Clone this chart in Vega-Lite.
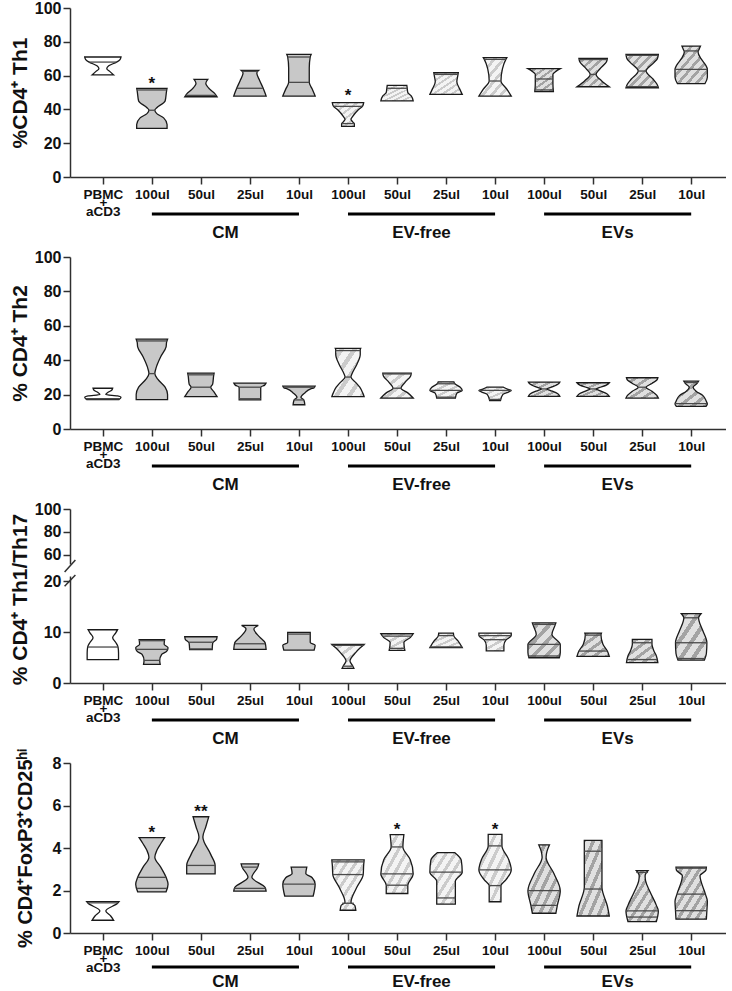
{
"$schema": "https://vega.github.io/schema/vega-lite/v6.json",
"padding": {"left": 8, "top": 0, "right": 0, "bottom": 0},
"config": {
 "font": "Liberation Sans",
 "view": {"stroke": null},
 "axis": {"grid": false, "domainColor": "#303030", "domainWidth": 1.5, "tickColor": "#303030", "tickWidth": 1.5, "tickSize": 7, "labelFont": "Liberation Sans", "labelFontWeight": "bold", "labelColor": "#111111", "titleFont": "Liberation Sans", "titleFontWeight": "bold", "titleColor": "#111111", "titleFontSize": 21, "labelOverlap": false},
 "axisY": {"labelFontSize": 16, "labelPadding": 2, "labelOverlap": false, "labelBound": false, "labelFlush": false},
 "axisX": {"labelFontSize": 13.5, "labelPadding": 3}
},
"datasets": {
 "s": [
  {"p":1,"c":1,"v":71,"w":0.37},{"p":1,"c":1,"v":69.5,"w":0.35},{"p":1,"c":1,"v":68,"w":0.28},{"p":1,"c":1,"v":65.8,"w":0.12},{"p":1,"c":1,"v":64,"w":0.08},{"p":1,"c":1,"v":62.5,"w":0.14},{"p":1,"c":1,"v":60.4,"w":0.22},
  {"p":1,"c":2,"v":52.5,"w":0.31},{"p":1,"c":2,"v":51,"w":0.30},{"p":1,"c":2,"v":45,"w":0.27},{"p":1,"c":2,"v":41,"w":0.10},{"p":1,"c":2,"v":39.5,"w":0.06},{"p":1,"c":2,"v":37.5,"w":0.10},{"p":1,"c":2,"v":35,"w":0.24},{"p":1,"c":2,"v":31,"w":0.31},{"p":1,"c":2,"v":28.8,"w":0.31},
  {"p":1,"c":3,"v":57.8,"w":0.14},{"p":1,"c":3,"v":55.5,"w":0.10},{"p":1,"c":3,"v":52,"w":0.18},{"p":1,"c":3,"v":49.5,"w":0.28},{"p":1,"c":3,"v":47.5,"w":0.33},
  {"p":1,"c":4,"v":63.1,"w":0.18},{"p":1,"c":4,"v":61.5,"w":0.14},{"p":1,"c":4,"v":57,"w":0.20},{"p":1,"c":4,"v":52.5,"w":0.27},{"p":1,"c":4,"v":49.5,"w":0.31},{"p":1,"c":4,"v":47.9,"w":0.33},
  {"p":1,"c":5,"v":72.6,"w":0.25},{"p":1,"c":5,"v":71,"w":0.23},{"p":1,"c":5,"v":64.5,"w":0.21},{"p":1,"c":5,"v":56,"w":0.21},{"p":1,"c":5,"v":52,"w":0.27},{"p":1,"c":5,"v":47.9,"w":0.33},
  {"p":1,"c":6,"v":44,"w":0.32},{"p":1,"c":6,"v":42,"w":0.30},{"p":1,"c":6,"v":39.5,"w":0.20},{"p":1,"c":6,"v":36,"w":0.10},{"p":1,"c":6,"v":34.1,"w":0.06},{"p":1,"c":6,"v":32.5,"w":0.10},{"p":1,"c":6,"v":31.5,"w":0.13},{"p":1,"c":6,"v":30,"w":0.13},
  {"p":1,"c":7,"v":54.2,"w":0.20},{"p":1,"c":7,"v":52,"w":0.21},{"p":1,"c":7,"v":50,"w":0.22},{"p":1,"c":7,"v":48,"w":0.29},{"p":1,"c":7,"v":45,"w":0.33},
  {"p":1,"c":8,"v":61.7,"w":0.25},{"p":1,"c":8,"v":60,"w":0.24},{"p":1,"c":8,"v":56.4,"w":0.22},{"p":1,"c":8,"v":52,"w":0.28},{"p":1,"c":8,"v":48.9,"w":0.33},
  {"p":1,"c":9,"v":70.6,"w":0.24},{"p":1,"c":9,"v":69.6,"w":0.22},{"p":1,"c":9,"v":64,"w":0.15},{"p":1,"c":9,"v":56.8,"w":0.12},{"p":1,"c":9,"v":52,"w":0.24},{"p":1,"c":9,"v":47.9,"w":0.33},
  {"p":1,"c":10,"v":64.1,"w":0.33},{"p":1,"c":10,"v":62.5,"w":0.24},{"p":1,"c":10,"v":60.8,"w":0.18},{"p":1,"c":10,"v":55,"w":0.18},{"p":1,"c":10,"v":50.5,"w":0.19},
  {"p":1,"c":11,"v":70.2,"w":0.29},{"p":1,"c":11,"v":68,"w":0.27},{"p":1,"c":11,"v":64,"w":0.14},{"p":1,"c":11,"v":60.7,"w":0.06},{"p":1,"c":11,"v":57,"w":0.17},{"p":1,"c":11,"v":53.4,"w":0.33},
  {"p":1,"c":12,"v":72.6,"w":0.33},{"p":1,"c":12,"v":70,"w":0.31},{"p":1,"c":12,"v":67.7,"w":0.24},{"p":1,"c":12,"v":62.7,"w":0.08},{"p":1,"c":12,"v":58,"w":0.22},{"p":1,"c":12,"v":55,"w":0.30},{"p":1,"c":12,"v":52.8,"w":0.33},
  {"p":1,"c":13,"v":77.5,"w":0.19},{"p":1,"c":13,"v":75.5,"w":0.16},{"p":1,"c":13,"v":74,"w":0.14},{"p":1,"c":13,"v":70,"w":0.20},{"p":1,"c":13,"v":66,"w":0.30},{"p":1,"c":13,"v":63.7,"w":0.33},{"p":1,"c":13,"v":59,"w":0.33},{"p":1,"c":13,"v":55.2,"w":0.28},

  {"p":2,"c":1,"v":23.7,"w":0.20},{"p":2,"c":1,"v":22.5,"w":0.18},{"p":2,"c":1,"v":21.2,"w":0.10},{"p":2,"c":1,"v":20,"w":0.06},{"p":2,"c":1,"v":19.2,"w":0.30},{"p":2,"c":1,"v":18.4,"w":0.37},{"p":2,"c":1,"v":17.1,"w":0.33},
  {"p":2,"c":2,"v":52.2,"w":0.32},{"p":2,"c":2,"v":50.5,"w":0.30},{"p":2,"c":2,"v":47.8,"w":0.29},{"p":2,"c":2,"v":42,"w":0.18},{"p":2,"c":2,"v":35,"w":0.08},{"p":2,"c":2,"v":32.2,"w":0.06},{"p":2,"c":2,"v":29,"w":0.12},{"p":2,"c":2,"v":24.3,"w":0.27},{"p":2,"c":2,"v":20,"w":0.32},{"p":2,"c":2,"v":17.1,"w":0.32},
  {"p":2,"c":3,"v":32.5,"w":0.27},{"p":2,"c":3,"v":31,"w":0.26},{"p":2,"c":3,"v":26.1,"w":0.24},{"p":2,"c":3,"v":24.3,"w":0.20},{"p":2,"c":3,"v":21.5,"w":0.27},{"p":2,"c":3,"v":18.8,"w":0.33},
  {"p":2,"c":4,"v":26.7,"w":0.33},{"p":2,"c":4,"v":25.5,"w":0.30},{"p":2,"c":4,"v":24.3,"w":0.22},{"p":2,"c":4,"v":20,"w":0.22},{"p":2,"c":4,"v":16.9,"w":0.22},
  {"p":2,"c":5,"v":24.9,"w":0.33},{"p":2,"c":5,"v":24,"w":0.31},{"p":2,"c":5,"v":23.3,"w":0.24},{"p":2,"c":5,"v":21,"w":0.12},{"p":2,"c":5,"v":18.4,"w":0.04},{"p":2,"c":5,"v":16.9,"w":0.10},{"p":2,"c":5,"v":14.1,"w":0.12},
  {"p":2,"c":6,"v":46.9,"w":0.26},{"p":2,"c":6,"v":46,"w":0.25},{"p":2,"c":6,"v":43.3,"w":0.25},{"p":2,"c":6,"v":37.5,"w":0.18},{"p":2,"c":6,"v":32,"w":0.08},{"p":2,"c":6,"v":30.2,"w":0.06},{"p":2,"c":6,"v":27,"w":0.16},{"p":2,"c":6,"v":24.3,"w":0.24},{"p":2,"c":6,"v":21,"w":0.30},{"p":2,"c":6,"v":18.8,"w":0.33},
  {"p":2,"c":7,"v":32.5,"w":0.29},{"p":2,"c":7,"v":31,"w":0.28},{"p":2,"c":7,"v":27,"w":0.16},{"p":2,"c":7,"v":23.7,"w":0.08},{"p":2,"c":7,"v":21,"w":0.22},{"p":2,"c":7,"v":18,"w":0.33},
  {"p":2,"c":8,"v":27.4,"w":0.16},{"p":2,"c":8,"v":26.3,"w":0.18},{"p":2,"c":8,"v":24.3,"w":0.29},{"p":2,"c":8,"v":22.4,"w":0.33},{"p":2,"c":8,"v":20.8,"w":0.22},{"p":2,"c":8,"v":18,"w":0.19},
  {"p":2,"c":9,"v":24.3,"w":0.17},{"p":2,"c":9,"v":23.2,"w":0.25},{"p":2,"c":9,"v":22.4,"w":0.33},{"p":2,"c":9,"v":21.6,"w":0.28},{"p":2,"c":9,"v":20.1,"w":0.16},{"p":2,"c":9,"v":16.5,"w":0.11},
  {"p":2,"c":10,"v":27.3,"w":0.32},{"p":2,"c":10,"v":26,"w":0.28},{"p":2,"c":10,"v":24,"w":0.12},{"p":2,"c":10,"v":23.3,"w":0.05},{"p":2,"c":10,"v":22.5,"w":0.12},{"p":2,"c":10,"v":20.5,"w":0.28},{"p":2,"c":10,"v":19,"w":0.32},
  {"p":2,"c":11,"v":26.9,"w":0.33},{"p":2,"c":11,"v":25.5,"w":0.27},{"p":2,"c":11,"v":24,"w":0.12},{"p":2,"c":11,"v":23.3,"w":0.06},{"p":2,"c":11,"v":22.5,"w":0.12},{"p":2,"c":11,"v":20.5,"w":0.28},{"p":2,"c":11,"v":19,"w":0.33},
  {"p":2,"c":12,"v":29.8,"w":0.32},{"p":2,"c":12,"v":28.5,"w":0.30},{"p":2,"c":12,"v":26.5,"w":0.20},{"p":2,"c":12,"v":24.3,"w":0.08},{"p":2,"c":12,"v":22,"w":0.20},{"p":2,"c":12,"v":19.5,"w":0.30},{"p":2,"c":12,"v":18,"w":0.33},
  {"p":2,"c":13,"v":27.8,"w":0.15},{"p":2,"c":13,"v":26.5,"w":0.12},{"p":2,"c":13,"v":24.3,"w":0.04},{"p":2,"c":13,"v":22,"w":0.10},{"p":2,"c":13,"v":19.4,"w":0.24},{"p":2,"c":13,"v":16,"w":0.31},{"p":2,"c":13,"v":14.5,"w":0.33},{"p":2,"c":13,"v":13.1,"w":0.30},

  {"p":3,"c":1,"v":10.45,"w":0.30},{"p":3,"c":1,"v":9.8,"w":0.26},{"p":3,"c":1,"v":8.9,"w":0.20},{"p":3,"c":1,"v":8.0,"w":0.26},{"p":3,"c":1,"v":7.06,"w":0.31},{"p":3,"c":1,"v":5.9,"w":0.32},{"p":3,"c":1,"v":4.57,"w":0.32},
  {"p":3,"c":2,"v":8.5,"w":0.26},{"p":3,"c":2,"v":7.6,"w":0.25},{"p":3,"c":2,"v":6.93,"w":0.33},{"p":3,"c":2,"v":6.2,"w":0.30},{"p":3,"c":2,"v":5.6,"w":0.20},{"p":3,"c":2,"v":4.44,"w":0.16},{"p":3,"c":2,"v":3.66,"w":0.17},
  {"p":3,"c":3,"v":9.08,"w":0.33},{"p":3,"c":3,"v":8.6,"w":0.32},{"p":3,"c":3,"v":7.8,"w":0.24},{"p":3,"c":3,"v":6.54,"w":0.23},
  {"p":3,"c":4,"v":11.3,"w":0.17},{"p":3,"c":4,"v":10.6,"w":0.08},{"p":3,"c":4,"v":9.0,"w":0.20},{"p":3,"c":4,"v":7.9,"w":0.31},{"p":3,"c":4,"v":6.6,"w":0.33},
  {"p":3,"c":5,"v":9.93,"w":0.23},{"p":3,"c":5,"v":9.6,"w":0.23},{"p":3,"c":5,"v":7.97,"w":0.23},{"p":3,"c":5,"v":7.4,"w":0.33},{"p":3,"c":5,"v":6.47,"w":0.31},
  {"p":3,"c":6,"v":7.58,"w":0.33},{"p":3,"c":6,"v":6.9,"w":0.25},{"p":3,"c":6,"v":6.0,"w":0.16},{"p":3,"c":6,"v":4.3,"w":0.04},{"p":3,"c":6,"v":3.3,"w":0.10},{"p":3,"c":6,"v":2.88,"w":0.12},
  {"p":3,"c":7,"v":9.67,"w":0.33},{"p":3,"c":7,"v":8.9,"w":0.27},{"p":3,"c":7,"v":7.97,"w":0.14},{"p":3,"c":7,"v":6.4,"w":0.16},
  {"p":3,"c":8,"v":9.8,"w":0.15},{"p":3,"c":8,"v":9.2,"w":0.16},{"p":3,"c":8,"v":8.3,"w":0.24},{"p":3,"c":8,"v":6.93,"w":0.33},
  {"p":3,"c":9,"v":9.8,"w":0.33},{"p":3,"c":9,"v":9.3,"w":0.33},{"p":3,"c":9,"v":8.4,"w":0.22},{"p":3,"c":9,"v":7.4,"w":0.18},{"p":3,"c":9,"v":6.3,"w":0.18},
  {"p":3,"c":10,"v":11.8,"w":0.24},{"p":3,"c":10,"v":11.5,"w":0.23},{"p":3,"c":10,"v":9.54,"w":0.16},{"p":3,"c":10,"v":7.58,"w":0.33},{"p":3,"c":10,"v":6,"w":0.33},{"p":3,"c":10,"v":4.96,"w":0.31},
  {"p":3,"c":11,"v":9.8,"w":0.17},{"p":3,"c":11,"v":9.4,"w":0.16},{"p":3,"c":11,"v":7.6,"w":0.20},{"p":3,"c":11,"v":6.27,"w":0.29},{"p":3,"c":11,"v":5.22,"w":0.33},
  {"p":3,"c":12,"v":8.56,"w":0.20},{"p":3,"c":12,"v":7.6,"w":0.20},{"p":3,"c":12,"v":6.3,"w":0.24},{"p":3,"c":12,"v":5.3,"w":0.29},{"p":3,"c":12,"v":3.99,"w":0.32},
  {"p":3,"c":13,"v":13.6,"w":0.20},{"p":3,"c":13,"v":12.8,"w":0.15},{"p":3,"c":13,"v":12.2,"w":0.16},{"p":3,"c":13,"v":10.2,"w":0.24},{"p":3,"c":13,"v":7.9,"w":0.32},{"p":3,"c":13,"v":5.8,"w":0.31},{"p":3,"c":13,"v":4.5,"w":0.27},

  {"p":4,"c":1,"v":1.48,"w":0.33},{"p":4,"c":1,"v":1.4,"w":0.30},{"p":4,"c":1,"v":1.04,"w":0.06},{"p":4,"c":1,"v":0.8,"w":0.16},{"p":4,"c":1,"v":0.6,"w":0.22},
  {"p":4,"c":2,"v":4.49,"w":0.26},{"p":4,"c":2,"v":4.2,"w":0.18},{"p":4,"c":2,"v":3.88,"w":0.10},{"p":4,"c":2,"v":3.57,"w":0.06},{"p":4,"c":2,"v":3.1,"w":0.18},{"p":4,"c":2,"v":2.62,"w":0.29},{"p":4,"c":2,"v":2.3,"w":0.33},{"p":4,"c":2,"v":1.94,"w":0.29},
  {"p":4,"c":3,"v":5.47,"w":0.16},{"p":4,"c":3,"v":5.0,"w":0.10},{"p":4,"c":3,"v":4.52,"w":0.04},{"p":4,"c":3,"v":3.7,"w":0.20},{"p":4,"c":3,"v":3.18,"w":0.29},{"p":4,"c":3,"v":2.78,"w":0.29},
  {"p":4,"c":4,"v":3.25,"w":0.18},{"p":4,"c":4,"v":3.1,"w":0.16},{"p":4,"c":4,"v":2.62,"w":0.04},{"p":4,"c":4,"v":2.14,"w":0.31},{"p":4,"c":4,"v":1.97,"w":0.33},
  {"p":4,"c":5,"v":3.1,"w":0.16},{"p":4,"c":5,"v":2.8,"w":0.14},{"p":4,"c":5,"v":2.6,"w":0.27},{"p":4,"c":5,"v":2.3,"w":0.33},{"p":4,"c":5,"v":1.74,"w":0.29},
  {"p":4,"c":6,"v":3.44,"w":0.33},{"p":4,"c":6,"v":3.2,"w":0.32},{"p":4,"c":6,"v":2.75,"w":0.31},{"p":4,"c":6,"v":2.15,"w":0.18},{"p":4,"c":6,"v":1.44,"w":0.06},{"p":4,"c":6,"v":1.3,"w":0.14},{"p":4,"c":6,"v":1.07,"w":0.16},
  {"p":4,"c":7,"v":4.63,"w":0.14},{"p":4,"c":7,"v":4.05,"w":0.12},{"p":4,"c":7,"v":3.45,"w":0.27},{"p":4,"c":7,"v":2.78,"w":0.33},{"p":4,"c":7,"v":2.25,"w":0.22},{"p":4,"c":7,"v":1.86,"w":0.22},
  {"p":4,"c":8,"v":3.78,"w":0.18},{"p":4,"c":8,"v":3.43,"w":0.31},{"p":4,"c":8,"v":2.86,"w":0.33},{"p":4,"c":8,"v":2.44,"w":0.19},{"p":4,"c":8,"v":1.36,"w":0.19},
  {"p":4,"c":9,"v":4.64,"w":0.14},{"p":4,"c":9,"v":4.1,"w":0.14},{"p":4,"c":9,"v":3.5,"w":0.27},{"p":4,"c":9,"v":2.97,"w":0.33},{"p":4,"c":9,"v":2.5,"w":0.22},{"p":4,"c":9,"v":2.23,"w":0.12},{"p":4,"c":9,"v":1.47,"w":0.12},
  {"p":4,"c":10,"v":4.15,"w":0.11},{"p":4,"c":10,"v":3.85,"w":0.06},{"p":4,"c":10,"v":3.57,"w":0.04},{"p":4,"c":10,"v":2.8,"w":0.20},{"p":4,"c":10,"v":1.99,"w":0.33},{"p":4,"c":10,"v":1.3,"w":0.27},{"p":4,"c":10,"v":0.93,"w":0.24},
  {"p":4,"c":11,"v":4.36,"w":0.18},{"p":4,"c":11,"v":3.85,"w":0.18},{"p":4,"c":11,"v":2.15,"w":0.18},{"p":4,"c":11,"v":1.27,"w":0.29},{"p":4,"c":11,"v":0.8,"w":0.33},
  {"p":4,"c":12,"v":2.94,"w":0.12},{"p":4,"c":12,"v":2.7,"w":0.06},{"p":4,"c":12,"v":2.45,"w":0.07},{"p":4,"c":12,"v":1.94,"w":0.16},{"p":4,"c":12,"v":1.3,"w":0.29},{"p":4,"c":12,"v":1.04,"w":0.33},{"p":4,"c":12,"v":0.54,"w":0.29},
  {"p":4,"c":13,"v":3.1,"w":0.31},{"p":4,"c":13,"v":2.95,"w":0.30},{"p":4,"c":13,"v":2.7,"w":0.18},{"p":4,"c":13,"v":1.83,"w":0.29},{"p":4,"c":13,"v":1.5,"w":0.33},{"p":4,"c":13,"v":1.05,"w":0.32},{"p":4,"c":13,"v":0.65,"w":0.31}
 ],
 "l": [
  {"p":1,"c":1,"v":68,"w":0.28},{"p":1,"c":2,"v":51.5,"w":0.30},{"p":1,"c":2,"v":39.5,"w":0.06},{"p":1,"c":3,"v":48.3,"w":0.31},{"p":1,"c":4,"v":62.5,"w":0.16},{"p":1,"c":4,"v":52.5,"w":0.27},{"p":1,"c":5,"v":71,"w":0.23},{"p":1,"c":5,"v":56,"w":0.21},{"p":1,"c":6,"v":41.8,"w":0.29},{"p":1,"c":6,"v":31.6,"w":0.13},{"p":1,"c":7,"v":52.5,"w":0.21},{"p":1,"c":8,"v":60.7,"w":0.24},{"p":1,"c":9,"v":69.6,"w":0.22},{"p":1,"c":9,"v":56.8,"w":0.12},{"p":1,"c":10,"v":58,"w":0.18},{"p":1,"c":10,"v":51.5,"w":0.19},{"p":1,"c":11,"v":69.5,"w":0.28},{"p":1,"c":11,"v":60.7,"w":0.06},{"p":1,"c":12,"v":72,"w":0.33},{"p":1,"c":12,"v":62.7,"w":0.08},{"p":1,"c":12,"v":53.5,"w":0.33},{"p":1,"c":13,"v":74.6,"w":0.15},{"p":1,"c":13,"v":63.7,"w":0.33},
  {"p":2,"c":1,"v":17.6,"w":0.35},{"p":2,"c":2,"v":51.2,"w":0.31},{"p":2,"c":2,"v":32.2,"w":0.06},{"p":2,"c":3,"v":31.5,"w":0.26},{"p":2,"c":3,"v":24.3,"w":0.20},{"p":2,"c":4,"v":24.3,"w":0.22},{"p":2,"c":4,"v":17.6,"w":0.22},{"p":2,"c":5,"v":24.3,"w":0.32},{"p":2,"c":5,"v":16.9,"w":0.10},{"p":2,"c":6,"v":45.6,"w":0.25},{"p":2,"c":6,"v":30.2,"w":0.06},{"p":2,"c":7,"v":32,"w":0.29},{"p":2,"c":7,"v":23.7,"w":0.08},{"p":2,"c":8,"v":26.3,"w":0.18},{"p":2,"c":8,"v":22.4,"w":0.33},{"p":2,"c":8,"v":18.5,"w":0.19},{"p":2,"c":9,"v":22.4,"w":0.33},{"p":2,"c":9,"v":17.2,"w":0.12},{"p":2,"c":10,"v":23.3,"w":0.05},{"p":2,"c":11,"v":23.3,"w":0.06},{"p":2,"c":12,"v":24.3,"w":0.08},{"p":2,"c":13,"v":27,"w":0.14},{"p":2,"c":13,"v":14.8,"w":0.33},
  {"p":3,"c":1,"v":7.06,"w":0.31},{"p":3,"c":2,"v":8.3,"w":0.26},{"p":3,"c":2,"v":6.6,"w":0.32},{"p":3,"c":2,"v":4.44,"w":0.16},{"p":3,"c":3,"v":8.0,"w":0.25},{"p":3,"c":3,"v":6.7,"w":0.23},{"p":3,"c":4,"v":7.7,"w":0.31},{"p":3,"c":5,"v":9.6,"w":0.23},{"p":3,"c":6,"v":7.4,"w":0.33},{"p":3,"c":6,"v":3.3,"w":0.10},{"p":3,"c":7,"v":9.2,"w":0.30},{"p":3,"c":7,"v":6.8,"w":0.16},{"p":3,"c":8,"v":9.3,"w":0.15},{"p":3,"c":8,"v":7.1,"w":0.33},{"p":3,"c":9,"v":9.3,"w":0.33},{"p":3,"c":9,"v":8.5,"w":0.22},{"p":3,"c":10,"v":11.5,"w":0.23},{"p":3,"c":10,"v":7.58,"w":0.33},{"p":3,"c":10,"v":5.3,"w":0.32},{"p":3,"c":11,"v":9.4,"w":0.16},{"p":3,"c":11,"v":6.27,"w":0.29},{"p":3,"c":12,"v":7.9,"w":0.20},{"p":3,"c":12,"v":4.6,"w":0.31},{"p":3,"c":13,"v":12.8,"w":0.15},{"p":3,"c":13,"v":7.9,"w":0.32},{"p":3,"c":13,"v":4.8,"w":0.28},
  {"p":4,"c":1,"v":1.42,"w":0.31},{"p":4,"c":2,"v":2.62,"w":0.29},{"p":4,"c":2,"v":2.1,"w":0.31},{"p":4,"c":3,"v":3.18,"w":0.29},{"p":4,"c":4,"v":3.1,"w":0.16},{"p":4,"c":4,"v":2.1,"w":0.32},{"p":4,"c":5,"v":2.3,"w":0.33},{"p":4,"c":6,"v":3.35,"w":0.33},{"p":4,"c":6,"v":2.75,"w":0.31},{"p":4,"c":6,"v":1.4,"w":0.12},{"p":4,"c":7,"v":4.05,"w":0.12},{"p":4,"c":7,"v":2.78,"w":0.33},{"p":4,"c":7,"v":2.25,"w":0.22},{"p":4,"c":8,"v":2.86,"w":0.33},{"p":4,"c":8,"v":1.65,"w":0.19},{"p":4,"c":9,"v":4.1,"w":0.14},{"p":4,"c":9,"v":2.97,"w":0.33},{"p":4,"c":9,"v":2.23,"w":0.12},{"p":4,"c":10,"v":1.99,"w":0.33},{"p":4,"c":10,"v":1.3,"w":0.27},{"p":4,"c":11,"v":3.85,"w":0.18},{"p":4,"c":11,"v":2.07,"w":0.18},{"p":4,"c":12,"v":2.85,"w":0.12},{"p":4,"c":12,"v":1.04,"w":0.33},{"p":4,"c":12,"v":0.75,"w":0.31},{"p":4,"c":13,"v":3.05,"w":0.31},{"p":4,"c":13,"v":1.83,"w":0.29},{"p":4,"c":13,"v":1.05,"w":0.32}
 ],
 "t": [
  {"p":1,"c":2,"v":56.8,"t":"*"},{"p":1,"c":6,"v":49.7,"t":"*"},
  {"p":4,"c":2,"v":4.83,"t":"*"},{"p":4,"c":3,"v":5.83,"t":"**"},{"p":4,"c":7,"v":4.99,"t":"*"},{"p":4,"c":9,"v":4.99,"t":"*"}
 ],
 "g": [
  {"label":"CM","s":2,"e":5},{"label":"EV-free","s":6,"e":9},{"label":"EVs","s":10,"e":13}
 ]
},
"spacing": 80,
"bounds": "flush",
"vconcat": [
 {
  "width": 656, "height": 169,
  "resolve": {"scale": {"y": "independent"}, "axis": {"y": "independent"}},
  "layer": [
   {"data":{"name":"s"},"transform":[{"filter":"datum.p==1 && datum.c==1"},{"calculate":"datum.c-datum.w","as":"lo"},{"calculate":"datum.c+datum.w","as":"hi"}],
    "mark":{"type":"area","orient":"horizontal","interpolate":"monotone","fill":"#ffffff","stroke":"#1a1a1a","strokeWidth":1.3},
    "encoding":{
     "y":{"field":"v","type":"quantitative","scale":{"domain":[0,100],"nice":false,"zero":false},"axis":{"values":[0,20,40,60,80,100],"orient":"left","title":"%CD4⁺ Th1","titleX":-44,"titleBaseline":"alphabetic","labelOverlap":false}},
     "x":{"field":"lo","type":"quantitative","scale":{"domain":[0.33,13.71],"nice":false,"zero":false},"axis":{"values":[1,2,3,4,5,6,7,8,9,10,11,12,13],"labelExpr":"datum.value == 1 ? ['PBMC','+','aCD3'] : ['100ul','50ul','25ul','10ul'][(datum.value - 2) % 4]","title":null,"labelLineHeight":8.5,"labelOverlap":false,"labelBound":false,"labelFlush":false}},
     "x2":{"field":"hi"},"detail":{"field":"c"}}},
   {"data":{"name":"s"},"transform":[{"filter":"datum.p==1 && datum.c>=2 && datum.c<=5"},{"calculate":"datum.c-datum.w","as":"lo"},{"calculate":"datum.c+datum.w","as":"hi"}],
    "mark":{"type":"area","orient":"horizontal","interpolate":"monotone","fill":"#c8c8c8","stroke":"#1a1a1a","strokeWidth":1.3},
    "encoding":{"y":{"field":"v","type":"quantitative","scale":{"domain":[0,100],"nice":false,"zero":false},"axis":null},"x":{"field":"lo","type":"quantitative"},"x2":{"field":"hi"},"detail":{"field":"c"}}},
   {"data":{"name":"s"},"transform":[{"filter":"datum.p==1 && datum.c>=6 && datum.c<=9"},{"calculate":"datum.c-datum.w","as":"lo"},{"calculate":"datum.c+datum.w","as":"hi"}],
    "mark":{"type":"area","orient":"horizontal","interpolate":"monotone","stroke":"#1a1a1a","strokeWidth":1.3,
     "fill":{"gradient":"linear","x1":0,"y1":0,"x2":1,"y2":1,"stops":[{"offset":0,"color":"#f4f4f4"},{"offset":0.0857,"color":"#f4f4f4"},{"offset":0.0857,"color":"#cbcbcb"},{"offset":0.1429,"color":"#cbcbcb"},{"offset":0.1429,"color":"#f4f4f4"},{"offset":0.2286,"color":"#f4f4f4"},{"offset":0.2286,"color":"#cbcbcb"},{"offset":0.2857,"color":"#cbcbcb"},{"offset":0.2857,"color":"#f4f4f4"},{"offset":0.3714,"color":"#f4f4f4"},{"offset":0.3714,"color":"#cbcbcb"},{"offset":0.4286,"color":"#cbcbcb"},{"offset":0.4286,"color":"#f4f4f4"},{"offset":0.5143,"color":"#f4f4f4"},{"offset":0.5143,"color":"#cbcbcb"},{"offset":0.5714,"color":"#cbcbcb"},{"offset":0.5714,"color":"#f4f4f4"},{"offset":0.6571,"color":"#f4f4f4"},{"offset":0.6571,"color":"#cbcbcb"},{"offset":0.7143,"color":"#cbcbcb"},{"offset":0.7143,"color":"#f4f4f4"},{"offset":0.8,"color":"#f4f4f4"},{"offset":0.8,"color":"#cbcbcb"},{"offset":0.8571,"color":"#cbcbcb"},{"offset":0.8571,"color":"#f4f4f4"},{"offset":0.9429,"color":"#f4f4f4"},{"offset":0.9429,"color":"#cbcbcb"},{"offset":1,"color":"#cbcbcb"}]}},
    "encoding":{"y":{"field":"v","type":"quantitative","scale":{"domain":[0,100],"nice":false,"zero":false},"axis":null},"x":{"field":"lo","type":"quantitative"},"x2":{"field":"hi"},"detail":{"field":"c"}}},
   {"data":{"name":"s"},"transform":[{"filter":"datum.p==1 && datum.c>=10"},{"calculate":"datum.c-datum.w","as":"lo"},{"calculate":"datum.c+datum.w","as":"hi"}],
    "mark":{"type":"area","orient":"horizontal","interpolate":"monotone","stroke":"#1a1a1a","strokeWidth":1.3,
     "fill":{"gradient":"linear","x1":0,"y1":0,"x2":1,"y2":1,"stops":[{"offset":0,"color":"#e0e0e0"},{"offset":0.0857,"color":"#e0e0e0"},{"offset":0.0857,"color":"#a3a3a3"},{"offset":0.1429,"color":"#a3a3a3"},{"offset":0.1429,"color":"#e0e0e0"},{"offset":0.2286,"color":"#e0e0e0"},{"offset":0.2286,"color":"#a3a3a3"},{"offset":0.2857,"color":"#a3a3a3"},{"offset":0.2857,"color":"#e0e0e0"},{"offset":0.3714,"color":"#e0e0e0"},{"offset":0.3714,"color":"#a3a3a3"},{"offset":0.4286,"color":"#a3a3a3"},{"offset":0.4286,"color":"#e0e0e0"},{"offset":0.5143,"color":"#e0e0e0"},{"offset":0.5143,"color":"#a3a3a3"},{"offset":0.5714,"color":"#a3a3a3"},{"offset":0.5714,"color":"#e0e0e0"},{"offset":0.6571,"color":"#e0e0e0"},{"offset":0.6571,"color":"#a3a3a3"},{"offset":0.7143,"color":"#a3a3a3"},{"offset":0.7143,"color":"#e0e0e0"},{"offset":0.8,"color":"#e0e0e0"},{"offset":0.8,"color":"#a3a3a3"},{"offset":0.8571,"color":"#a3a3a3"},{"offset":0.8571,"color":"#e0e0e0"},{"offset":0.9429,"color":"#e0e0e0"},{"offset":0.9429,"color":"#a3a3a3"},{"offset":1,"color":"#a3a3a3"}]}},
    "encoding":{"y":{"field":"v","type":"quantitative","scale":{"domain":[0,100],"nice":false,"zero":false},"axis":null},"x":{"field":"lo","type":"quantitative"},"x2":{"field":"hi"},"detail":{"field":"c"}}},
   {"data":{"name":"l"},"transform":[{"filter":"datum.p==1"},{"calculate":"datum.c-datum.w","as":"lo"},{"calculate":"datum.c+datum.w","as":"hi"}],
    "mark":{"type":"rule","stroke":"#4a4a4a","strokeWidth":1.3},
    "encoding":{"y":{"field":"v","type":"quantitative","scale":{"domain":[0,100],"nice":false,"zero":false},"axis":null},"x":{"field":"lo","type":"quantitative"},"x2":{"field":"hi"}}},
   {"data":{"name":"t"},"transform":[{"filter":"datum.p==1"}],
    "mark":{"type":"text","fontSize":17,"fontWeight":"bold","baseline":"middle","dy":3,"color":"#111111"},
    "encoding":{"y":{"field":"v","type":"quantitative","scale":{"domain":[0,100],"nice":false,"zero":false},"axis":null},"x":{"field":"c","type":"quantitative"},"text":{"field":"t"}}},
   {"data":{"name":"g"},
    "mark":{"type":"rule","strokeWidth":3,"color":"#000000","yOffset":37},
    "encoding":{"y":{"datum":0,"type":"quantitative","scale":{"domain":[0,100],"nice":false,"zero":false},"axis":null},"x":{"field":"s","type":"quantitative"},"x2":{"field":"e"}}},
   {"data":{"name":"g"},"transform":[{"calculate":"(datum.s+datum.e)/2","as":"m"}],
    "mark":{"type":"text","fontSize":17,"fontWeight":"bold","baseline":"middle","dy":56,"color":"#111111"},
    "encoding":{"y":{"datum":0,"type":"quantitative","scale":{"domain":[0,100],"nice":false,"zero":false},"axis":null},"x":{"field":"m","type":"quantitative"},"text":{"field":"label"}}}
  ]
 },
 {
  "width": 656, "height": 172,
  "resolve": {"scale": {"y": "independent"}, "axis": {"y": "independent"}},
  "layer": [
   {"data":{"name":"s"},"transform":[{"filter":"datum.p==2 && datum.c==1"},{"calculate":"datum.c-datum.w","as":"lo"},{"calculate":"datum.c+datum.w","as":"hi"}],
    "mark":{"type":"area","orient":"horizontal","interpolate":"monotone","fill":"#ffffff","stroke":"#1a1a1a","strokeWidth":1.3},
    "encoding":{
     "y":{"field":"v","type":"quantitative","scale":{"domain":[0,100],"nice":false,"zero":false},"axis":{"values":[0,20,40,60,80,100],"orient":"left","title":"% CD4⁺ Th2","titleX":-44,"titleBaseline":"alphabetic","labelOverlap":false}},
     "x":{"field":"lo","type":"quantitative","scale":{"domain":[0.33,13.71],"nice":false,"zero":false},"axis":{"values":[1,2,3,4,5,6,7,8,9,10,11,12,13],"labelExpr":"datum.value == 1 ? ['PBMC','+','aCD3'] : ['100ul','50ul','25ul','10ul'][(datum.value - 2) % 4]","title":null,"labelLineHeight":8.5,"labelOverlap":false,"labelBound":false,"labelFlush":false}},
     "x2":{"field":"hi"},"detail":{"field":"c"}}},
   {"data":{"name":"s"},"transform":[{"filter":"datum.p==2 && datum.c>=2 && datum.c<=5"},{"calculate":"datum.c-datum.w","as":"lo"},{"calculate":"datum.c+datum.w","as":"hi"}],
    "mark":{"type":"area","orient":"horizontal","interpolate":"monotone","fill":"#c8c8c8","stroke":"#1a1a1a","strokeWidth":1.3},
    "encoding":{"y":{"field":"v","type":"quantitative","scale":{"domain":[0,100],"nice":false,"zero":false},"axis":null},"x":{"field":"lo","type":"quantitative"},"x2":{"field":"hi"},"detail":{"field":"c"}}},
   {"data":{"name":"s"},"transform":[{"filter":"datum.p==2 && datum.c>=6 && datum.c<=9"},{"calculate":"datum.c-datum.w","as":"lo"},{"calculate":"datum.c+datum.w","as":"hi"}],
    "mark":{"type":"area","orient":"horizontal","interpolate":"monotone","stroke":"#1a1a1a","strokeWidth":1.3,
     "fill":{"gradient":"linear","x1":0,"y1":0,"x2":1,"y2":1,"stops":[{"offset":0,"color":"#f4f4f4"},{"offset":0.12,"color":"#f4f4f4"},{"offset":0.12,"color":"#cbcbcb"},{"offset":0.2,"color":"#cbcbcb"},{"offset":0.2,"color":"#f4f4f4"},{"offset":0.32,"color":"#f4f4f4"},{"offset":0.32,"color":"#cbcbcb"},{"offset":0.4,"color":"#cbcbcb"},{"offset":0.4,"color":"#f4f4f4"},{"offset":0.52,"color":"#f4f4f4"},{"offset":0.52,"color":"#cbcbcb"},{"offset":0.6,"color":"#cbcbcb"},{"offset":0.6,"color":"#f4f4f4"},{"offset":0.72,"color":"#f4f4f4"},{"offset":0.72,"color":"#cbcbcb"},{"offset":0.8,"color":"#cbcbcb"},{"offset":0.8,"color":"#f4f4f4"},{"offset":0.92,"color":"#f4f4f4"},{"offset":0.92,"color":"#cbcbcb"},{"offset":1,"color":"#cbcbcb"}]}},
    "encoding":{"y":{"field":"v","type":"quantitative","scale":{"domain":[0,100],"nice":false,"zero":false},"axis":null},"x":{"field":"lo","type":"quantitative"},"x2":{"field":"hi"},"detail":{"field":"c"}}},
   {"data":{"name":"s"},"transform":[{"filter":"datum.p==2 && datum.c>=10"},{"calculate":"datum.c-datum.w","as":"lo"},{"calculate":"datum.c+datum.w","as":"hi"}],
    "mark":{"type":"area","orient":"horizontal","interpolate":"monotone","stroke":"#1a1a1a","strokeWidth":1.3,
     "fill":{"gradient":"linear","x1":0,"y1":0,"x2":1,"y2":1,"stops":[{"offset":0,"color":"#e0e0e0"},{"offset":0.12,"color":"#e0e0e0"},{"offset":0.12,"color":"#a3a3a3"},{"offset":0.2,"color":"#a3a3a3"},{"offset":0.2,"color":"#e0e0e0"},{"offset":0.32,"color":"#e0e0e0"},{"offset":0.32,"color":"#a3a3a3"},{"offset":0.4,"color":"#a3a3a3"},{"offset":0.4,"color":"#e0e0e0"},{"offset":0.52,"color":"#e0e0e0"},{"offset":0.52,"color":"#a3a3a3"},{"offset":0.6,"color":"#a3a3a3"},{"offset":0.6,"color":"#e0e0e0"},{"offset":0.72,"color":"#e0e0e0"},{"offset":0.72,"color":"#a3a3a3"},{"offset":0.8,"color":"#a3a3a3"},{"offset":0.8,"color":"#e0e0e0"},{"offset":0.92,"color":"#e0e0e0"},{"offset":0.92,"color":"#a3a3a3"},{"offset":1,"color":"#a3a3a3"}]}},
    "encoding":{"y":{"field":"v","type":"quantitative","scale":{"domain":[0,100],"nice":false,"zero":false},"axis":null},"x":{"field":"lo","type":"quantitative"},"x2":{"field":"hi"},"detail":{"field":"c"}}},
   {"data":{"name":"l"},"transform":[{"filter":"datum.p==2"},{"calculate":"datum.c-datum.w","as":"lo"},{"calculate":"datum.c+datum.w","as":"hi"}],
    "mark":{"type":"rule","stroke":"#4a4a4a","strokeWidth":1.3},
    "encoding":{"y":{"field":"v","type":"quantitative","scale":{"domain":[0,100],"nice":false,"zero":false},"axis":null},"x":{"field":"lo","type":"quantitative"},"x2":{"field":"hi"}}},
   {"data":{"name":"g"},
    "mark":{"type":"rule","strokeWidth":3,"color":"#000000","yOffset":37},
    "encoding":{"y":{"datum":0,"type":"quantitative","scale":{"domain":[0,100],"nice":false,"zero":false},"axis":null},"x":{"field":"s","type":"quantitative"},"x2":{"field":"e"}}},
   {"data":{"name":"g"},"transform":[{"calculate":"(datum.s+datum.e)/2","as":"m"}],
    "mark":{"type":"text","fontSize":17,"fontWeight":"bold","baseline":"middle","dy":56,"color":"#111111"},
    "encoding":{"y":{"datum":0,"type":"quantitative","scale":{"domain":[0,100],"nice":false,"zero":false},"axis":null},"x":{"field":"m","type":"quantitative"},"text":{"field":"label"}}}
  ]
 },
 {
  "width": 656, "height": 174,
  "resolve": {"scale": {"y": "independent"}, "axis": {"y": "independent"}},
  "layer": [
   {"data": {"values": [{}]},
    "mark": {"type":"rule","stroke":"#303030","strokeWidth":1.5},
    "encoding": {
     "y":{"datum":45,"type":"quantitative","scale":{"domain":[52,100],"range":[55,0],"nice":false,"zero":false},"axis":{"values":[60,80,100],"title":null,"orient":"left","labelOverlap":false}},
     "y2":{"datum":55.5},
     "x":{"datum":0.22,"type":"quantitative"},
     "x2":{"datum":0.44}}},
   {"data":{"name":"s"},"transform":[{"filter":"datum.p==3 && datum.c==1"},{"calculate":"datum.c-datum.w","as":"lo"},{"calculate":"datum.c+datum.w","as":"hi"}],
    "mark":{"type":"area","orient":"horizontal","interpolate":"monotone","fill":"#ffffff","stroke":"#1a1a1a","strokeWidth":1.3},
    "encoding":{
     "y":{"field":"v","type":"quantitative","scale":{"domain":[0,21],"range":[174,67],"nice":false,"zero":false},"axis":{"values":[0,10,20],"orient":"left","title":"% CD4⁺ Th1/Th17","titleX":-44,"titleY":90,"titleBaseline":"alphabetic","labelOverlap":false}},
     "x":{"field":"lo","type":"quantitative","scale":{"domain":[0.33,13.71],"nice":false,"zero":false},"axis":{"values":[1,2,3,4,5,6,7,8,9,10,11,12,13],"labelExpr":"datum.value == 1 ? ['PBMC','+','aCD3'] : ['100ul','50ul','25ul','10ul'][(datum.value - 2) % 4]","title":null,"labelLineHeight":8.5,"labelOverlap":false,"labelBound":false,"labelFlush":false}},
     "x2":{"field":"hi"},"detail":{"field":"c"}}},
   {"data":{"name":"s"},"transform":[{"filter":"datum.p==3 && datum.c>=2 && datum.c<=5"},{"calculate":"datum.c-datum.w","as":"lo"},{"calculate":"datum.c+datum.w","as":"hi"}],
    "mark":{"type":"area","orient":"horizontal","interpolate":"monotone","fill":"#c8c8c8","stroke":"#1a1a1a","strokeWidth":1.3},
    "encoding":{"y":{"field":"v","type":"quantitative","scale":{"domain":[0,21],"range":[174,67],"nice":false,"zero":false},"axis":null},"x":{"field":"lo","type":"quantitative"},"x2":{"field":"hi"},"detail":{"field":"c"}}},
   {"data":{"name":"s"},"transform":[{"filter":"datum.p==3 && datum.c>=6 && datum.c<=9"},{"calculate":"datum.c-datum.w","as":"lo"},{"calculate":"datum.c+datum.w","as":"hi"}],
    "mark":{"type":"area","orient":"horizontal","interpolate":"monotone","stroke":"#1a1a1a","strokeWidth":1.3,
     "fill":{"gradient":"linear","x1":0,"y1":0,"x2":1,"y2":1,"stops":[{"offset":0,"color":"#f4f4f4"},{"offset":0.12,"color":"#f4f4f4"},{"offset":0.12,"color":"#cbcbcb"},{"offset":0.2,"color":"#cbcbcb"},{"offset":0.2,"color":"#f4f4f4"},{"offset":0.32,"color":"#f4f4f4"},{"offset":0.32,"color":"#cbcbcb"},{"offset":0.4,"color":"#cbcbcb"},{"offset":0.4,"color":"#f4f4f4"},{"offset":0.52,"color":"#f4f4f4"},{"offset":0.52,"color":"#cbcbcb"},{"offset":0.6,"color":"#cbcbcb"},{"offset":0.6,"color":"#f4f4f4"},{"offset":0.72,"color":"#f4f4f4"},{"offset":0.72,"color":"#cbcbcb"},{"offset":0.8,"color":"#cbcbcb"},{"offset":0.8,"color":"#f4f4f4"},{"offset":0.92,"color":"#f4f4f4"},{"offset":0.92,"color":"#cbcbcb"},{"offset":1,"color":"#cbcbcb"}]}},
    "encoding":{"y":{"field":"v","type":"quantitative","scale":{"domain":[0,21],"range":[174,67],"nice":false,"zero":false},"axis":null},"x":{"field":"lo","type":"quantitative"},"x2":{"field":"hi"},"detail":{"field":"c"}}},
   {"data":{"name":"s"},"transform":[{"filter":"datum.p==3 && datum.c>=10"},{"calculate":"datum.c-datum.w","as":"lo"},{"calculate":"datum.c+datum.w","as":"hi"}],
    "mark":{"type":"area","orient":"horizontal","interpolate":"monotone","stroke":"#1a1a1a","strokeWidth":1.3,
     "fill":{"gradient":"linear","x1":0,"y1":0,"x2":1,"y2":1,"stops":[{"offset":0,"color":"#e0e0e0"},{"offset":0.12,"color":"#e0e0e0"},{"offset":0.12,"color":"#a3a3a3"},{"offset":0.2,"color":"#a3a3a3"},{"offset":0.2,"color":"#e0e0e0"},{"offset":0.32,"color":"#e0e0e0"},{"offset":0.32,"color":"#a3a3a3"},{"offset":0.4,"color":"#a3a3a3"},{"offset":0.4,"color":"#e0e0e0"},{"offset":0.52,"color":"#e0e0e0"},{"offset":0.52,"color":"#a3a3a3"},{"offset":0.6,"color":"#a3a3a3"},{"offset":0.6,"color":"#e0e0e0"},{"offset":0.72,"color":"#e0e0e0"},{"offset":0.72,"color":"#a3a3a3"},{"offset":0.8,"color":"#a3a3a3"},{"offset":0.8,"color":"#e0e0e0"},{"offset":0.92,"color":"#e0e0e0"},{"offset":0.92,"color":"#a3a3a3"},{"offset":1,"color":"#a3a3a3"}]}},
    "encoding":{"y":{"field":"v","type":"quantitative","scale":{"domain":[0,21],"range":[174,67],"nice":false,"zero":false},"axis":null},"x":{"field":"lo","type":"quantitative"},"x2":{"field":"hi"},"detail":{"field":"c"}}},
   {"data":{"name":"l"},"transform":[{"filter":"datum.p==3"},{"calculate":"datum.c-datum.w","as":"lo"},{"calculate":"datum.c+datum.w","as":"hi"}],
    "mark":{"type":"rule","stroke":"#4a4a4a","strokeWidth":1.3},
    "encoding":{"y":{"field":"v","type":"quantitative","scale":{"domain":[0,21],"range":[174,67],"nice":false,"zero":false},"axis":null},"x":{"field":"lo","type":"quantitative"},"x2":{"field":"hi"}}},
   {"data":{"values":[{}]},
    "mark":{"type":"rule","stroke":"#303030","strokeWidth":1.5},
    "encoding":{"y":{"datum":19.0,"type":"quantitative","scale":{"domain":[0,21],"range":[174,67],"nice":false,"zero":false},"axis":null},"y2":{"datum":21.2},"x":{"datum":0.22,"type":"quantitative"},"x2":{"datum":0.44}}},
   {"data":{"name":"g"},
    "mark":{"type":"rule","strokeWidth":3,"color":"#000000","yOffset":37},
    "encoding":{"y":{"datum":0,"type":"quantitative","scale":{"domain":[0,21],"range":[174,67],"nice":false,"zero":false},"axis":null},"x":{"field":"s","type":"quantitative"},"x2":{"field":"e"}}},
   {"data":{"name":"g"},"transform":[{"calculate":"(datum.s+datum.e)/2","as":"m"}],
    "mark":{"type":"text","fontSize":17,"fontWeight":"bold","baseline":"middle","dy":56,"color":"#111111"},
    "encoding":{"y":{"datum":0,"type":"quantitative","scale":{"domain":[0,21],"range":[174,67],"nice":false,"zero":false},"axis":null},"x":{"field":"m","type":"quantitative"},"text":{"field":"label"}}}
  ]
 },
 {
  "width": 656, "height": 170,
  "layer": [
   {"data":{"name":"s"},"transform":[{"filter":"datum.p==4 && datum.c==1"},{"calculate":"datum.c-datum.w","as":"lo"},{"calculate":"datum.c+datum.w","as":"hi"}],
    "mark":{"type":"area","orient":"horizontal","interpolate":"monotone","fill":"#ffffff","stroke":"#1a1a1a","strokeWidth":1.3},
    "encoding":{
     "y":{"field":"v","type":"quantitative","scale":{"domain":[0,8],"nice":false,"zero":false},"axis":{"values":[0,2,4,6,8],"title":"% CD4⁺FoxP3⁺CD25ʰⁱ","titleX":-39,"titleFontSize":20,"titleBaseline":"alphabetic","labelOverlap":false}},
     "x":{"field":"lo","type":"quantitative","scale":{"domain":[0.33,13.71],"nice":false,"zero":false},"axis":{"values":[1,2,3,4,5,6,7,8,9,10,11,12,13],"labelExpr":"datum.value == 1 ? ['PBMC','+','aCD3'] : ['100ul','50ul','25ul','10ul'][(datum.value - 2) % 4]","title":null,"labelLineHeight":8.5,"labelOverlap":false,"labelBound":false,"labelFlush":false}},
     "x2":{"field":"hi"},"detail":{"field":"c"}}},
   {"data":{"name":"s"},"transform":[{"filter":"datum.p==4 && datum.c>=2 && datum.c<=5"},{"calculate":"datum.c-datum.w","as":"lo"},{"calculate":"datum.c+datum.w","as":"hi"}],
    "mark":{"type":"area","orient":"horizontal","interpolate":"monotone","fill":"#c8c8c8","stroke":"#1a1a1a","strokeWidth":1.3},
    "encoding":{"y":{"field":"v","type":"quantitative"},"x":{"field":"lo","type":"quantitative"},"x2":{"field":"hi"},"detail":{"field":"c"}}},
   {"data":{"name":"s"},"transform":[{"filter":"datum.p==4 && datum.c>=6 && datum.c<=9"},{"calculate":"datum.c-datum.w","as":"lo"},{"calculate":"datum.c+datum.w","as":"hi"}],
    "mark":{"type":"area","orient":"horizontal","interpolate":"monotone","stroke":"#1a1a1a","strokeWidth":1.3,
     "fill":{"gradient":"linear","x1":0,"y1":0,"x2":1,"y2":1,"stops":[{"offset":0,"color":"#f4f4f4"},{"offset":0.0857,"color":"#f4f4f4"},{"offset":0.0857,"color":"#cbcbcb"},{"offset":0.1429,"color":"#cbcbcb"},{"offset":0.1429,"color":"#f4f4f4"},{"offset":0.2286,"color":"#f4f4f4"},{"offset":0.2286,"color":"#cbcbcb"},{"offset":0.2857,"color":"#cbcbcb"},{"offset":0.2857,"color":"#f4f4f4"},{"offset":0.3714,"color":"#f4f4f4"},{"offset":0.3714,"color":"#cbcbcb"},{"offset":0.4286,"color":"#cbcbcb"},{"offset":0.4286,"color":"#f4f4f4"},{"offset":0.5143,"color":"#f4f4f4"},{"offset":0.5143,"color":"#cbcbcb"},{"offset":0.5714,"color":"#cbcbcb"},{"offset":0.5714,"color":"#f4f4f4"},{"offset":0.6571,"color":"#f4f4f4"},{"offset":0.6571,"color":"#cbcbcb"},{"offset":0.7143,"color":"#cbcbcb"},{"offset":0.7143,"color":"#f4f4f4"},{"offset":0.8,"color":"#f4f4f4"},{"offset":0.8,"color":"#cbcbcb"},{"offset":0.8571,"color":"#cbcbcb"},{"offset":0.8571,"color":"#f4f4f4"},{"offset":0.9429,"color":"#f4f4f4"},{"offset":0.9429,"color":"#cbcbcb"},{"offset":1,"color":"#cbcbcb"}]}},
    "encoding":{"y":{"field":"v","type":"quantitative"},"x":{"field":"lo","type":"quantitative"},"x2":{"field":"hi"},"detail":{"field":"c"}}},
   {"data":{"name":"s"},"transform":[{"filter":"datum.p==4 && datum.c>=10"},{"calculate":"datum.c-datum.w","as":"lo"},{"calculate":"datum.c+datum.w","as":"hi"}],
    "mark":{"type":"area","orient":"horizontal","interpolate":"monotone","stroke":"#1a1a1a","strokeWidth":1.3,
     "fill":{"gradient":"linear","x1":0,"y1":0,"x2":1,"y2":1,"stops":[{"offset":0,"color":"#e0e0e0"},{"offset":0.0857,"color":"#e0e0e0"},{"offset":0.0857,"color":"#a3a3a3"},{"offset":0.1429,"color":"#a3a3a3"},{"offset":0.1429,"color":"#e0e0e0"},{"offset":0.2286,"color":"#e0e0e0"},{"offset":0.2286,"color":"#a3a3a3"},{"offset":0.2857,"color":"#a3a3a3"},{"offset":0.2857,"color":"#e0e0e0"},{"offset":0.3714,"color":"#e0e0e0"},{"offset":0.3714,"color":"#a3a3a3"},{"offset":0.4286,"color":"#a3a3a3"},{"offset":0.4286,"color":"#e0e0e0"},{"offset":0.5143,"color":"#e0e0e0"},{"offset":0.5143,"color":"#a3a3a3"},{"offset":0.5714,"color":"#a3a3a3"},{"offset":0.5714,"color":"#e0e0e0"},{"offset":0.6571,"color":"#e0e0e0"},{"offset":0.6571,"color":"#a3a3a3"},{"offset":0.7143,"color":"#a3a3a3"},{"offset":0.7143,"color":"#e0e0e0"},{"offset":0.8,"color":"#e0e0e0"},{"offset":0.8,"color":"#a3a3a3"},{"offset":0.8571,"color":"#a3a3a3"},{"offset":0.8571,"color":"#e0e0e0"},{"offset":0.9429,"color":"#e0e0e0"},{"offset":0.9429,"color":"#a3a3a3"},{"offset":1,"color":"#a3a3a3"}]}},
    "encoding":{"y":{"field":"v","type":"quantitative"},"x":{"field":"lo","type":"quantitative"},"x2":{"field":"hi"},"detail":{"field":"c"}}},
   {"data":{"name":"l"},"transform":[{"filter":"datum.p==4"},{"calculate":"datum.c-datum.w","as":"lo"},{"calculate":"datum.c+datum.w","as":"hi"}],
    "mark":{"type":"rule","stroke":"#4a4a4a","strokeWidth":1.3},
    "encoding":{"y":{"field":"v","type":"quantitative"},"x":{"field":"lo","type":"quantitative"},"x2":{"field":"hi"}}},
   {"data":{"name":"t"},"transform":[{"filter":"datum.p==4"}],
    "mark":{"type":"text","fontSize":17,"fontWeight":"bold","baseline":"middle","dy":3,"color":"#111111"},
    "encoding":{"y":{"field":"v","type":"quantitative"},"x":{"field":"c","type":"quantitative"},"text":{"field":"t"}}},
   {"data":{"name":"g"},
    "mark":{"type":"rule","strokeWidth":3,"color":"#000000","yOffset":34},
    "encoding":{"y":{"datum":0,"type":"quantitative"},"x":{"field":"s","type":"quantitative"},"x2":{"field":"e"}}},
   {"data":{"name":"g"},"transform":[{"calculate":"(datum.s+datum.e)/2","as":"m"}],
    "mark":{"type":"text","fontSize":17,"fontWeight":"bold","baseline":"middle","dy":49,"color":"#111111"},
    "encoding":{"y":{"datum":0,"type":"quantitative"},"x":{"field":"m","type":"quantitative"},"text":{"field":"label"}}}
  ]
 }
]
}
